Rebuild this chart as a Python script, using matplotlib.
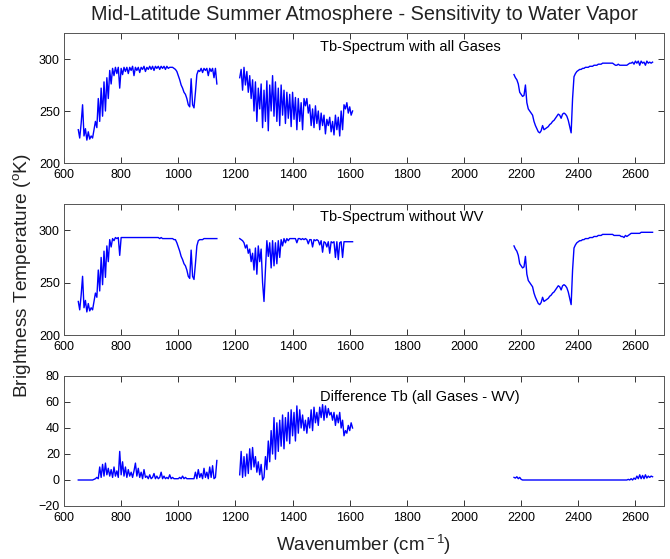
import numpy as np
import matplotlib
matplotlib.use("Agg")
import matplotlib.pyplot as plt

plt.rcParams['font.family'] = ['Liberation Sans', 'DejaVu Sans']
plt.rcParams['mathtext.fontset'] = 'custom'
plt.rcParams['mathtext.rm'] = 'Liberation Sans'
plt.rcParams['mathtext.it'] = 'Liberation Sans:italic'

# ---------------- data (brightness temperature, K) ----------------
# segment grids: start wavenumber and spacing (cm-1)
seg_a_start, seg_b_start, seg_c_start, step = 650, 1215, 2175, 5

# Panel 1 : all gases
all_a = [232, 224, 238, 256, 226, 233, 222, 230, 223, 226, 224, 232, 240, 234, 262, 240,
         272, 245, 278, 250, 282, 262, 289, 276, 291, 284, 292, 286, 292, 272, 291, 285,
         292, 288, 292, 286, 292, 289, 293, 284, 292, 289, 292, 287, 292, 290, 293, 288,
         292, 290, 293, 290, 293, 289, 293, 291, 293, 290, 293, 291, 293, 290, 293, 291,
         292, 292, 292, 291, 290, 288, 284, 280, 275, 272, 268, 266, 262, 256, 254, 281,
         256, 253, 268, 285, 289, 288, 291, 287, 291, 289, 291, 284, 291, 288, 291, 282,
         291, 276]
all_b = [282, 290, 270, 292, 275, 288, 268, 284, 262, 280, 250, 278, 240, 272, 252, 276,
         234, 270, 240, 279, 231, 275, 250, 284, 245, 278, 240, 272, 236, 275, 246, 270,
         238, 268, 243, 266, 235, 268, 242, 263, 232, 262, 240, 258, 232, 262, 255, 262,
         248, 256, 236, 252, 234, 255, 238, 250, 232, 248, 236, 246, 228, 242, 236, 244,
         230, 240, 227, 246, 232, 244, 226, 250, 232, 256, 252, 258, 248, 254, 246, 250]
all_c = [285, 282, 280, 276, 268, 266, 264, 265, 275, 258, 252, 250, 248, 246, 240, 236,
         233, 230, 229, 231, 236, 232, 233, 234, 235, 237, 238, 240, 241, 243, 245, 247,
         246, 243, 247, 248, 247, 245, 241, 235, 229, 262, 283, 286, 288, 289, 290, 290,
         291, 291, 292, 292, 292, 293, 293, 293, 294, 294, 294, 295, 295, 295, 296, 296,
         296, 296, 296, 296, 296, 296, 295, 294, 294, 295, 294, 294, 294, 294, 294, 294,
         295, 296, 296, 297, 295, 298, 296, 298, 294, 298, 296, 297, 294, 298, 296, 297,
         296, 297]

# Panel 2 : without water vapour
nowv_a = [232, 224, 238, 256, 226, 233, 222, 230, 223, 226, 224, 232, 240, 236, 262, 242,
          274, 248, 280, 255, 285, 270, 291, 284, 292, 290, 293, 292, 293, 276, 293, 293,
          293, 293, 293, 293, 293, 293, 293, 293, 293, 293, 293, 293, 293, 293, 293, 293,
          293, 293, 293, 293, 293, 293, 293, 293, 293, 292, 293, 292, 292, 292, 292, 292,
          292, 292, 292, 291, 291, 288, 284, 280, 275, 272, 268, 266, 262, 256, 254, 281,
          256, 253, 268, 285, 290, 291, 291, 291, 292, 292, 292, 292, 292, 292, 292, 292,
          292, 292]
nowv_b = [292, 291, 290, 288, 283, 286, 278, 282, 270, 278, 262, 283, 258, 285, 270, 282,
          250, 232, 262, 290, 275, 288, 264, 290, 266, 288, 268, 290, 274, 291, 285, 292,
          288, 292, 290, 292, 292, 292, 292, 292, 288, 292, 292, 291, 292, 291, 292, 291,
          287, 291, 291, 284, 291, 290, 291, 290, 286, 290, 279, 289, 288, 284, 289, 278,
          289, 288, 289, 274, 289, 272, 288, 289, 274, 289, 289, 289, 289, 289, 289, 289]
nowv_c = [285, 282, 280, 276, 268, 266, 264, 265, 275, 258, 252, 250, 248, 246, 240, 236,
          233, 230, 229, 231, 236, 232, 233, 234, 235, 237, 238, 240, 241, 243, 245, 247,
          246, 243, 247, 248, 247, 245, 241, 235, 229, 262, 283, 286, 288, 289, 290, 290,
          291, 291, 292, 292, 292, 293, 293, 293, 294, 294, 294, 295, 295, 295, 296, 296,
          296, 296, 296, 296, 296, 296, 295, 295, 295, 295, 295, 294, 294, 293, 295, 294,
          295, 296, 297, 297, 297, 297, 297, 297, 297, 298, 298, 298, 298, 298, 298, 298,
          298, 298]

# Panel 3 : difference
diff_a = [0, 0, 0, 0, 0, 0, 0, 0, 0, 0, 0, 0.5, 1, 2, 1, 10, 2, 12, 3, 13, 4, 9, 3, 8,
          2, 10, 3, 7, 2, 22, 4, 14, 3, 10, 2, 8, 3, 6, 2, 7, 13, 3, 9, 2, 6, 1, 8, 2,
          3, 1, 4, 1, 2, 5, 1, 3, 1, 2, 6, 1, 3, 1, 2, 1, 4, 1, 2, 1, 1, 1, 1, 2, 1, 3,
          1, 2, 1, 1, 1, 1, 1, 1, 6, 1, 8, 2, 5, 1, 9, 2, 6, 1, 10, 2, 11, 1, 2, 15]
diff_b = [4, 22, 2, 18, 3, 20, 5, 24, 8, 25, 10, 18, 6, 14, 4, 12, 0, 2, 18, 8, 30, 14,
          38, 20, 48, 16, 44, 22, 46, 26, 50, 24, 48, 30, 52, 28, 54, 34, 52, 30, 57, 36,
          54, 40, 50, 38, 46, 36, 48, 40, 54, 38, 56, 44, 52, 42, 56, 48, 58, 46, 57, 48,
          55, 50, 52, 46, 52, 42, 50, 44, 52, 40, 46, 34, 38, 36, 42, 38, 44, 40]
diff_c_wn = [2175, 2180, 2185, 2190, 2195, 2200, 2205, 2560, 2570, 2575, 2580, 2585,
             2590, 2595, 2600, 2605, 2610, 2615, 2620, 2625, 2630, 2635, 2640, 2645,
             2650, 2655, 2660]
diff_c = [2, 1.5, 2.5, 1, 2, 0.5, 0, 0, 0, 0.5, 0, 1, 0, 1.5, 0.5, 3, 1, 4, 1, 3.5, 1,
          4, 1.5, 3, 2, 3, 2.5]

titles = ["Tb-Spectrum with all Gases", "Tb-Spectrum without WV",
          "Difference Tb (all Gases - WV)"]


def grid(start, vals):
    return start + step * np.arange(len(vals))


# ---------------- figure ----------------
fig = plt.figure(figsize=(6.70, 5.59), dpi=100)
left, width = 64 / 670, 600 / 670
boxes = [(33, 163), (204, 335), (376, 506)]
axes = []
for top, bot in boxes:
    ax = fig.add_axes([left, 1 - bot / 559, width, (bot - top) / 559])
    axes.append(ax)

blue = '#0000ff'
lw = 1.0
series = [(all_a, all_b, all_c), (nowv_a, nowv_b, nowv_c)]
for ax, (sa, sb, sc) in zip(axes[:2], series):
    ax.plot(grid(seg_a_start, sa), sa, color=blue, lw=lw)
    ax.plot(grid(seg_b_start, sb), sb, color=blue, lw=lw)
    ax.plot(grid(seg_c_start, sc), sc, color=blue, lw=lw)
    ax.set_ylim(200, 325)
    ax.set_yticks([200, 250, 300])

ax3 = axes[2]
ax3.plot(grid(seg_a_start, diff_a), diff_a, color=blue, lw=lw)
ax3.plot(grid(seg_b_start, diff_b), diff_b, color=blue, lw=lw)
ax3.plot(diff_c_wn, diff_c, color=blue, lw=lw)
ax3.set_ylim(-20, 80)
ax3.set_yticks([-20, 0, 20, 40, 60, 80])

for ax, t, ty in zip(axes, titles, [0.89, 0.90, 0.84]):
    ax.set_xlim(600, 2700)
    ax.set_xticks(np.arange(600, 2700, 200))
    ax.tick_params(direction='in', top=True, right=True, length=4, width=0.7,
                   labelsize=9, colors='#333333', labelcolor='black')
    ax.tick_params(axis='x', pad=4.5)
    ax.tick_params(axis='y', pad=3)
    for s in ax.spines.values():
        s.set_linewidth(0.7)
        s.set_color('#555555')
    ax.text(0.427, ty, t, transform=ax.transAxes, fontsize=10.5, va='center', ha='left')

fig.text(364 / 670, 1 - 15 / 559, "Mid-Latitude Summer Atmosphere - Sensitivity to Water Vapor",
         ha='center', va='center', fontsize=14.3, color='#222222')
fig.text(364 / 670, 1 - 545 / 559, r"Wavenumber (cm$^{\rm -1}$)", ha='center', va='center',
         fontsize=13.5, color='#222222')
fig.text(22 / 670, 1 - 276 / 559, r"Brightness Temperature ($^{\rm o}$K)", ha='center',
         va='center', rotation=90, fontsize=13.8, color='#222222')

fig.savefig("out.png", dpi=100)
